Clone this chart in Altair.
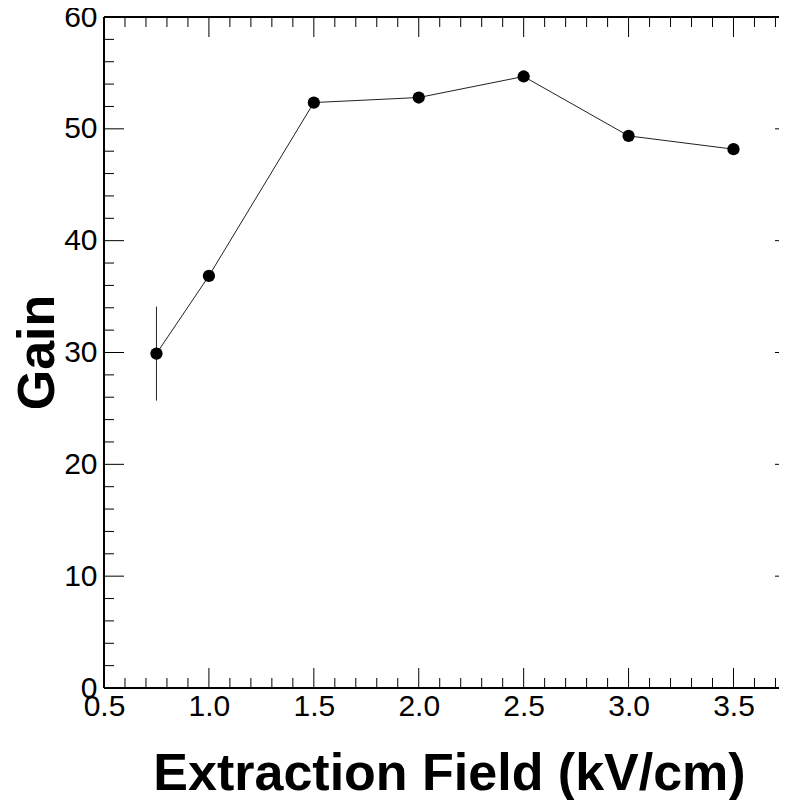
import altair as alt
import pandas as pd

# Data
field = [0.75, 1.0, 1.5, 2.0, 2.5, 3.0, 3.5]
gain = [29.9, 36.85, 52.35, 52.8, 54.68, 49.37, 48.18]
gain_err = [4.2, 0.3, 0.3, 0.3, 0.3, 0.3, 0.3]

x_major = [0.5, 1.0, 1.5, 2.0, 2.5, 3.0, 3.5]
x_minor = [round(0.5 + 0.1 * i, 1) for i in range(0, 33)]
x_minor = [v for v in x_minor if v not in x_major]
y_major = [0, 10, 20, 30, 40, 50, 60]
y_minor = [v for v in range(0, 61, 2) if v not in y_major]

W, H = 683, 671
FONT = "Liberation Sans"

df = pd.DataFrame({"field": field, "gain": gain,
                   "lo": [g - e for g, e in zip(gain, gain_err)],
                   "hi": [g + e for g, e in zip(gain, gain_err)]})
dxM = pd.DataFrame({"v": x_major})
dxm = pd.DataFrame({"v": x_minor})
dyM = pd.DataFrame({"v": y_major})
dym = pd.DataFrame({"v": y_minor})

xs = alt.Scale(domain=[0.5, 3.755], nice=False, zero=False)
ys = alt.Scale(domain=[0, 60], nice=False, zero=False)

xaxis = alt.Axis(values=x_major, format=".1f", labelPadding=3,
                 title="Extraction Field (kV/cm)",
                 titleX=345, titleY=101, titleBaseline="alphabetic",
                 titleAlign="center", titleAnchor="start")
yaxis = alt.Axis(values=y_major, format="d", labelPadding=7,
                 title="Gain", titleX=-51, titleY=335, titleAngle=-90,
                 titleBaseline="alphabetic", titleAlign="center", titleAnchor="start")

line = alt.Chart(df).mark_line(color="#222222", strokeWidth=1).encode(
    x=alt.X("field:Q", scale=xs, axis=xaxis),
    y=alt.Y("gain:Q", scale=ys, axis=yaxis),
)
err = alt.Chart(df).mark_rule(color="#222222", strokeWidth=1).encode(
    x=alt.X("field:Q", scale=xs, axis=xaxis),
    y=alt.Y("lo:Q", scale=ys, axis=yaxis),
    y2="hi:Q",
)
pts = alt.Chart(df).mark_circle(color="black", opacity=1, size=150).encode(
    x=alt.X("field:Q", scale=xs, axis=xaxis),
    y=alt.Y("gain:Q", scale=ys, axis=yaxis),
)

def xt(d, y1, y2):
    return alt.Chart(d).mark_rule(color="black", strokeWidth=1).encode(
        x=alt.X("v:Q", scale=xs, axis=xaxis), y=alt.value(y1), y2=alt.value(y2))

def yt(d, x1, x2):
    return alt.Chart(d).mark_rule(color="black", strokeWidth=1).encode(
        y=alt.Y("v:Q", scale=ys, axis=yaxis), x=alt.value(x1), x2=alt.value(x2))

ticks = [
    xt(dxM, H - 20, H), xt(dxm, H - 10, H),
    xt(dxM, 0, 20), xt(dxm, 0, 10),
    yt(dyM, 0, 20), yt(dym, 0, 10),
    yt(dyM, W - 12, W), yt(dym, W - 1, W),
]

frame = [
    alt.Chart(df).mark_rule(color="black", strokeWidth=1).encode(
        x=alt.value(0), y=alt.value(0), y2=alt.value(H)),
    alt.Chart(df).mark_rule(color="black", strokeWidth=1).encode(
        x=alt.value(0), x2=alt.value(W), y=alt.value(H)),
    alt.Chart(df).mark_rule(color="black", strokeWidth=1).encode(
        x=alt.value(0), x2=alt.value(W), y=alt.value(0)),
]

chart = alt.layer(line, err, pts, *ticks, *frame).properties(
    width=W, height=H,
    autosize=alt.AutoSizeParams(type="none"),
    padding={"left": 96, "top": 9, "right": -8, "bottom": 115},
).configure_view(stroke=None).configure_axis(
    labelFont=FONT, labelFontSize=30, labelColor="black",
    ticks=False, domain=False, grid=False,
    labelFlush=False, labelOverlap=False,
    titleFont=FONT, titleFontSize=52, titleFontWeight="bold", titleColor="black",
)

chart.save("out.html", embed_options={"renderer": "svg", "actions": False})
